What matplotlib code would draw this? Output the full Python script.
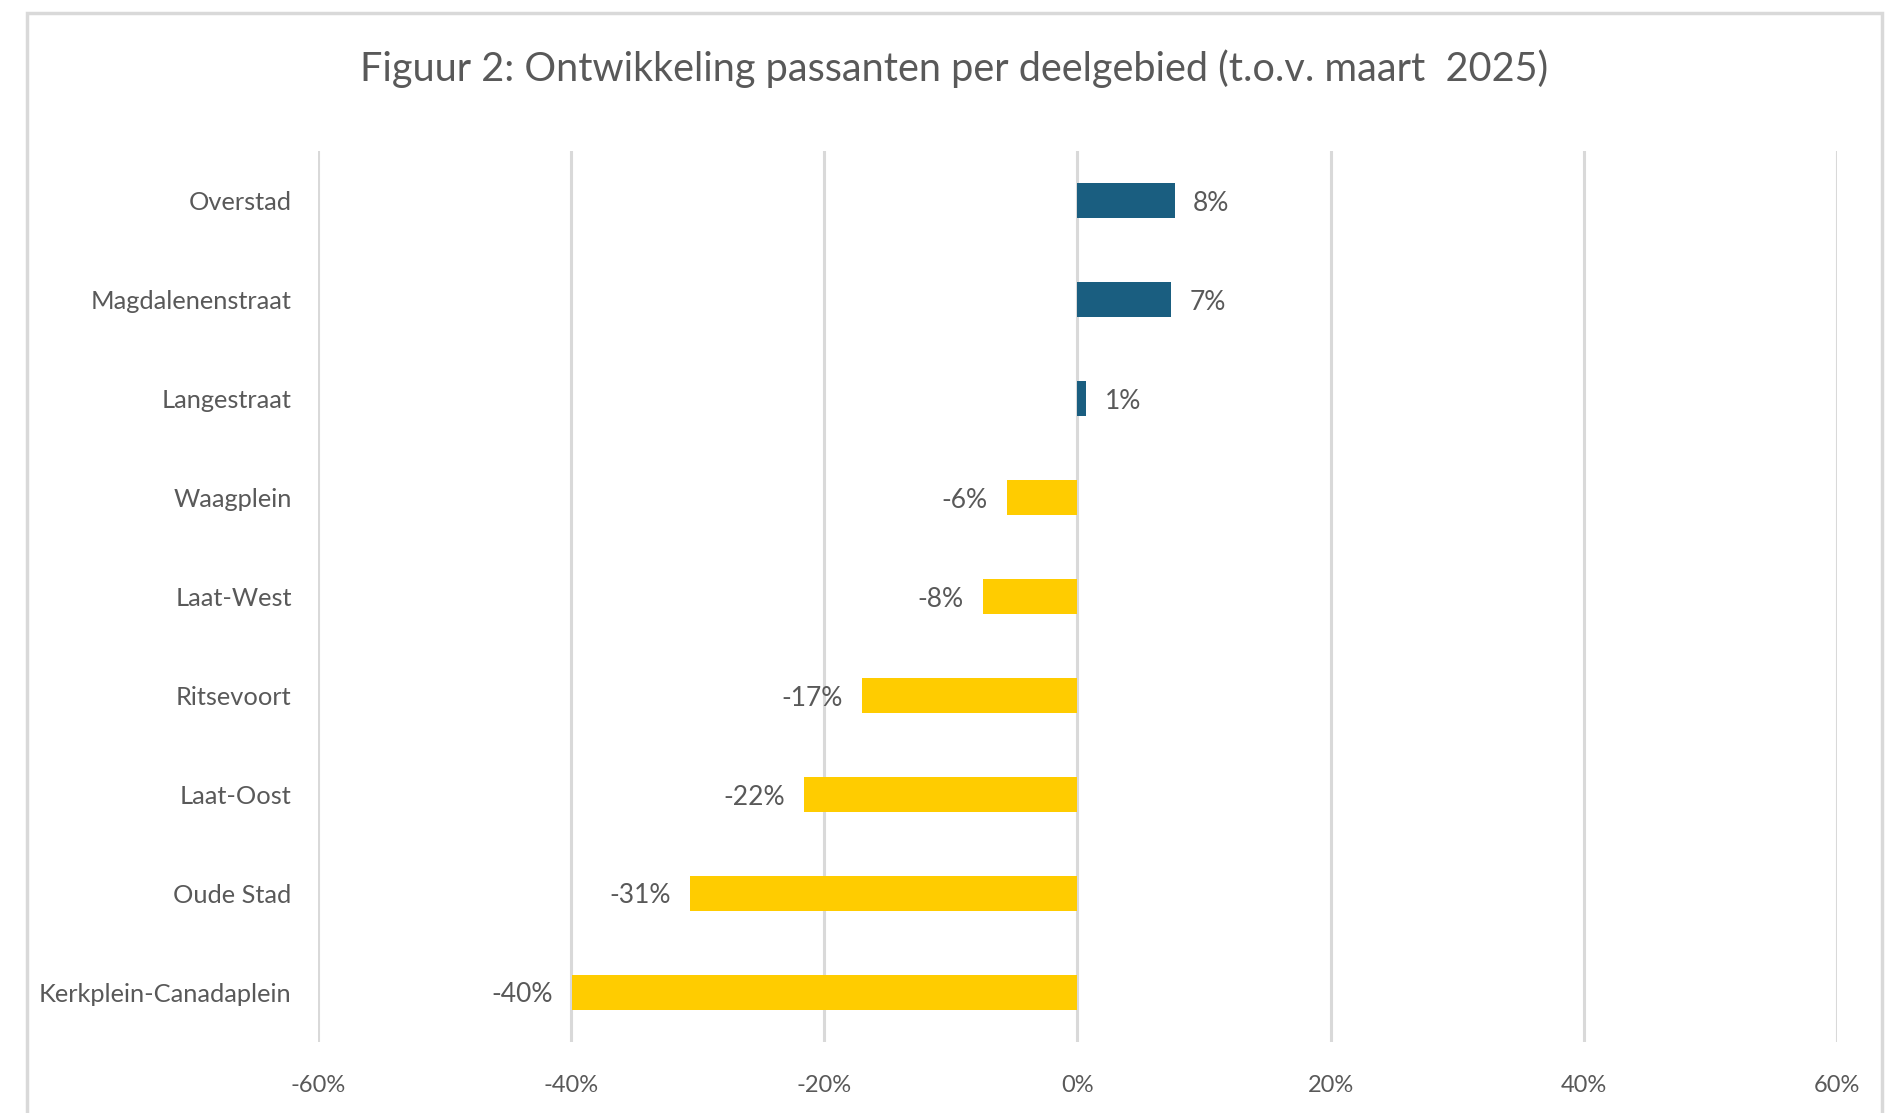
import matplotlib.pyplot as plt
from matplotlib.patches import Rectangle
from matplotlib.ticker import FuncFormatter


# Daten (von oben nach unten)
CATEGORIES = [
    "Overstad",
    "Magdalenenstraat",
    "Langestraat",
    "Waagplein",
    "Laat-West",
    "Ritsevoort",
    "Laat-Oost",
    "Oude Stad",
    "Kerkplein-Canadaplein",
]
CHANGE_PCT = [7.7, 7.4, 0.7, -5.6, -7.5, -17.0, -21.6, -30.6, -39.9]
X_TICKS = [-60, -40, -20, 0, 20, 40, 60]

TITLE = "Figuur 2: Ontwikkeling passanten per deelgebied (t.o.v. maart  2025)"

# Stil
BLUE = "#1A5E80"
YELLOW = "#FFCC00"
GRID = "#D9D9D9"
TEXT = "#595959"
FONT = ["Lato", "DejaVu Sans"]
NARROW = ["Liberation Sans Narrow", "Lato", "DejaVu Sans"]


def main():
    fig = plt.figure(figsize=(19, 11.13), dpi=100)
    ax = fig.add_axes([0.1674, 0.0638, 0.7994, 0.8005])

    # Rahmen um das ganze Diagramm
    fig.patches.append(Rectangle(
        (27 / 1900, -0.05), (1882 - 27) / 1900, 1.05 - 13 / 1113,
        transform=fig.transFigure, fill=False, edgecolor=GRID, linewidth=2.5,
    ))

    y = list(range(len(CATEGORIES)))
    colors = [BLUE if v >= 0 else YELLOW for v in CHANGE_PCT]
    bars = ax.barh(y, CHANGE_PCT, height=0.345, color=colors, zorder=3)

    ax.set_ylim(len(CATEGORIES) - 0.5, -0.5)
    ax.set_xlim(X_TICKS[0], X_TICKS[-1])
    ax.set_xticks(X_TICKS)
    ax.xaxis.set_major_formatter(FuncFormatter(lambda v, _: f"{v:.0f}%"))
    ax.set_yticks(y)
    ax.set_yticklabels(CATEGORIES, fontsize=18.3, color=TEXT, family=FONT,
                       va="center_baseline")
    for lbl in ax.get_xticklabels():
        lbl.set_fontsize(17)
        lbl.set_color(TEXT)
        lbl.set_family(NARROW)

    ax.tick_params(axis="y", length=0, pad=19)
    ax.tick_params(axis="x", length=0, pad=24)
    ax.grid(axis="x", color=GRID, linewidth=2.2, zorder=0)
    for s in ax.spines.values():
        s.set_visible(False)

    # Werte an die Balken
    for bar, v in zip(bars, CHANGE_PCT):
        ax.annotate(
            f"{v:.0f}%",
            (v, bar.get_y() + bar.get_height() / 2),
            xytext=(13 if v >= 0 else -14, 0),
            textcoords="offset points",
            ha="left" if v >= 0 else "right",
            va="center_baseline",
            fontsize=19,
            color=TEXT,
            family=FONT,
        )

    fig.text(954 / 1900, 1 - 69 / 1113, TITLE, ha="center", va="center",
             fontsize=28.5, color=TEXT, family=FONT)

    fig.savefig("out.png", dpi=100)
    plt.close(fig)


if __name__ == "__main__":
    main()
